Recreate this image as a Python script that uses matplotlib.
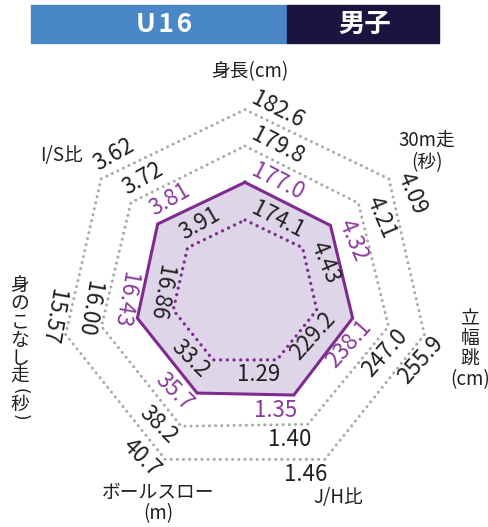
import numpy as np
import matplotlib.pyplot as plt
from matplotlib.patches import Rectangle

plt.rcParams['font.family'] = ['Noto Sans CJK JP', 'DejaVu Sans']

# ============================================================
# DATA
# ============================================================

axis_names = [
    "身長(cm)",
    "30m走\n(秒)",
    "立\n幅\n跳\n(cm)",
    "J/H比",
    "ボールスロー\n(m)",
    "身\nの\nこ\nな\nし\n走",
    "I/S比",
]

# ring values for each axis, from inner to outer
level1 = [174.1, 4.43, 229.2, 1.29, 33.2, 16.86, 3.91]
level2 = [177.0, 4.32, 238.1, 1.35, 35.7, 16.43, 3.81]   # filled (average)
level3 = [179.8, 4.21, 247.0, 1.40, 38.2, 16.00, 3.72]
level4 = [182.6, 4.09, 255.9, 1.46, 40.7, 15.57, 3.62]

decimals = [1, 2, 1, 2, 1, 2, 2]

header_left = "U\u200a1\u200a6"
header_right = "男子"

# ============================================================
# STYLE
# ============================================================

PURPLE = "#7e2b8f"
PURPLE_TEXT = "#8a3a9c"
FILL = "#ded5e9"
GRAY = "#a9a9a9"
BLACK = "#231f20"

# text rotation / shift along the edge for the value labels on each axis
label_rot = [-27, -67, 48, 0, -45, -100, 30]
label_along = [2, -2, -5, -3, -6, -13, 0]

n = len(axis_names)
theta = np.arange(n) * 2 * np.pi / n


def to_radius(values):
    lo = np.array(level1)
    hi = np.array(level4)
    v = np.array(values)
    return 2 + 3 * (v - lo) / (hi - lo)


def closed(a):
    return np.concatenate([a, a[:1]])


# ============================================================
# FIGURE
# ============================================================

W, H = 489, 527
fig = plt.figure(figsize=(W / 100, H / 100), dpi=100)

# header bars
fig.patches.append(Rectangle((31 / W, 1 - 43 / H), 256 / W, 38 / H,
                             transform=fig.transFigure, color="#4a87c6", zorder=0))
fig.patches.append(Rectangle((287 / W, 1 - 43 / H), 152 / W, 38 / H,
                             transform=fig.transFigure, color="#1a1540", zorder=0))
fig.text(164 / W, 1 - 24 / H, header_left, color="white", fontsize=19,
         fontweight="bold", ha="center", va="center")
fig.text(365 / W, 1 - 24 / H, header_right, color="white", fontsize=19,
         fontweight="bold", ha="center", va="center")

cx, cy, R = 245, 293.6, 184
ax = fig.add_axes([(cx - R) / W, (H - cy - R) / H, 2 * R / W, 2 * R / H],
                  projection="polar")
ax.set_theta_offset(np.pi / 2)
ax.set_theta_direction(-1)
ax.set_ylim(0, 5)
ax.set_axis_off()

# gray rings
for lv in [level3, level4]:
    ax.plot(closed(theta), closed(to_radius(lv)), color=GRAY, lw=2.2,
            linestyle=(0, (0.01, 2.0)), dash_capstyle="round", clip_on=False)

# filled polygon
r2 = to_radius(level2)
ax.fill(closed(theta), closed(r2), color=FILL, zorder=2)
ax.plot(closed(theta), closed(r2), color=PURPLE, lw=2.2, zorder=3,
        solid_joinstyle="miter")

# inner dotted polygon
ax.plot(closed(theta), closed(to_radius(level1)), color=PURPLE, lw=2.4,
        linestyle=(0, (0.01, 2.0)), dash_capstyle="round", zorder=4)

# ============================================================
# VALUE LABELS
# ============================================================

for lv, col in [(level1, BLACK), (level2, PURPLE_TEXT), (level3, BLACK), (level4, BLACK)]:
    radii = to_radius(lv)
    for k in range(n):
        k2 = (k + 1) % n
        p1 = np.array([np.sin(theta[k]), np.cos(theta[k])])
        p2 = np.array([np.sin(theta[k2]), np.cos(theta[k2])])
        e = (p2 - p1) / np.linalg.norm(p2 - p1)
        mid = theta[k] + np.pi / n
        nrm = np.array([np.sin(mid), np.cos(mid)])
        off = label_along[k] * e + 15 * nrm
        rd = np.deg2rad(label_rot[k])
        reading = np.array([np.cos(rd), np.sin(rd)])
        ha = "left" if reading @ e > 0 else "right"
        ax.annotate(f"{lv[k]:.{decimals[k]}f}", xy=(theta[k], radii[k]),
                    xytext=off, textcoords="offset pixels",
                    rotation=label_rot[k], rotation_mode="anchor",
                    ha=ha, va="center", fontsize=16, color=col,
                    annotation_clip=False, zorder=5)

# ============================================================
# AXIS NAMES
# ============================================================

name_pos = [(250, 72), (427, 152), (470, 349), (338, 498),
            (158, 503), (20, 331), (62, 155)]
name_ls = [1.2, 1.0, 0.95, 1.2, 1.0, 0.82, 1.2]

for name, (x, y), ls in zip(axis_names, name_pos, name_ls):
    fig.text(x / W, 1 - y / H, name, fontsize=13.5, color=BLACK,
             ha="center", va="center", multialignment="center",
             linespacing=ls)

# vertical "(秒)" under 身のこなし走
fig.text(20 / W, 1 - 391 / H, "(", fontsize=12, color=BLACK,
         family="DejaVu Sans", rotation=-90, rotation_mode="anchor",
         ha="center", va="center")
fig.text(20 / W, 1 - 404 / H, "秒", fontsize=13.5, color=BLACK,
         ha="center", va="center")
fig.text(20 / W, 1 - 417 / H, ")", fontsize=12, color=BLACK,
         family="DejaVu Sans", rotation=-90, rotation_mode="anchor",
         ha="center", va="center")

fig.savefig("out.png", dpi=100)
